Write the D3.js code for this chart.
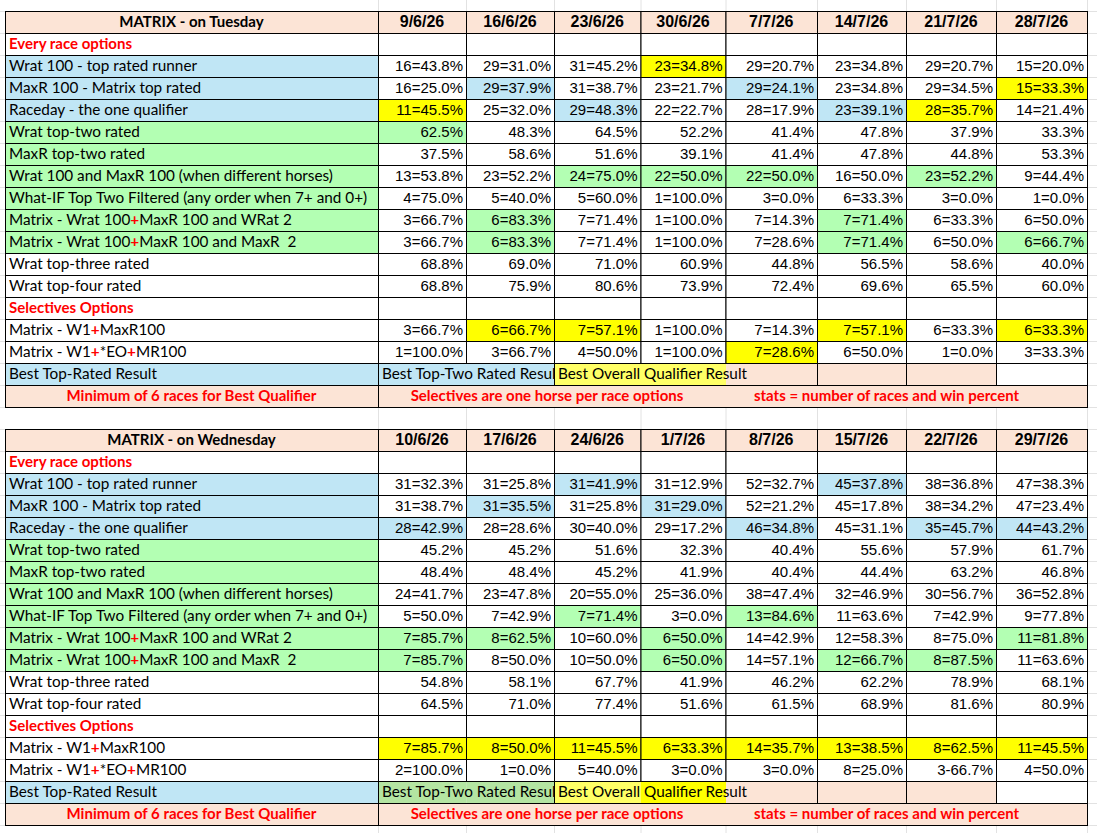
<!DOCTYPE html>
<html>
<head>
<meta charset="utf-8">
<script src="https://cdn.jsdelivr.net/npm/d3@7"></script>
<style>
  body { margin: 0; background: #fff; }
  svg { display: block; }
</style>
</head>
<body>
<div id="sheet"></div>
<script>
// Spreadsheet data: two weekly tables of strike rates

const tueDates = ["9/6/26", "16/6/26", "23/6/26", "30/6/26", "7/7/26", "14/7/26", "21/7/26", "28/7/26"];
const wedDates = ["10/6/26", "17/6/26", "24/6/26", "1/7/26", "8/7/26", "15/7/26", "22/7/26", "29/7/26"];

const rowLabels = [
  "Wrat 100 - top rated runner",
  "MaxR 100 - Matrix top rated",
  "Raceday - the one qualifier",
  "Wrat top-two rated",
  "MaxR top-two rated",
  "Wrat 100 and MaxR 100 (when different horses)",
  "What-IF Top Two Filtered (any order when 7+ and 0+)",
  "Matrix - Wrat 100+MaxR 100 and WRat 2",
  "Matrix - Wrat 100+MaxR 100 and MaxR  2",
  "Wrat top-three rated",
  "Wrat top-four rated",
  "Matrix - W1+MaxR100",
  "Matrix - W1+*EO+MR100"
];
// T = top-rated group, W = top-two group, . = plain
const rowGroups = ["T", "T", "T", "W", "W", "W", "W", "W", "W", ".", ".", ".", "."];
const sections = ["Every race options", "Selectives Options"];

const tueValues = [
  ["16=43.8%", "29=31.0%", "31=45.2%", "23=34.8%", "29=20.7%", "23=34.8%", "29=20.7%", "15=20.0%"],
  ["16=25.0%", "29=37.9%", "31=38.7%", "23=21.7%", "29=24.1%", "23=34.8%", "29=34.5%", "15=33.3%"],
  ["11=45.5%", "25=32.0%", "29=48.3%", "22=22.7%", "28=17.9%", "23=39.1%", "28=35.7%", "14=21.4%"],
  ["62.5%", "48.3%", "64.5%", "52.2%", "41.4%", "47.8%", "37.9%", "33.3%"],
  ["37.5%", "58.6%", "51.6%", "39.1%", "41.4%", "47.8%", "44.8%", "53.3%"],
  ["13=53.8%", "23=52.2%", "24=75.0%", "22=50.0%", "22=50.0%", "16=50.0%", "23=52.2%", "9=44.4%"],
  ["4=75.0%", "5=40.0%", "5=60.0%", "1=100.0%", "3=0.0%", "6=33.3%", "3=0.0%", "1=0.0%"],
  ["3=66.7%", "6=83.3%", "7=71.4%", "1=100.0%", "7=14.3%", "7=71.4%", "6=33.3%", "6=50.0%"],
  ["3=66.7%", "6=83.3%", "7=71.4%", "1=100.0%", "7=28.6%", "7=71.4%", "6=50.0%", "6=66.7%"],
  ["68.8%", "69.0%", "71.0%", "60.9%", "44.8%", "56.5%", "58.6%", "40.0%"],
  ["68.8%", "75.9%", "80.6%", "73.9%", "72.4%", "69.6%", "65.5%", "60.0%"],
  ["3=66.7%", "6=66.7%", "7=57.1%", "1=100.0%", "7=14.3%", "7=57.1%", "6=33.3%", "6=33.3%"],
  ["1=100.0%", "3=66.7%", "4=50.0%", "1=100.0%", "7=28.6%", "6=50.0%", "1=0.0%", "3=33.3%"]
];
// best-result markers per cell: T top-rated, W top-two, Q overall qualifier
const tueMarks = [
  "...Q....", ".T..T..Q", "Q.T..TQ.", "W.......", "........", "..WWW.W.",
  "........", ".W...W..", ".W...W.W", "........", "........", ".QQ..Q.Q", "....Q..."
];
const tueLegend = ["T", "T", "T", "L", "L", "P", "P", "P", "N"];

const wedValues = [
  ["31=32.3%", "31=25.8%", "31=41.9%", "31=12.9%", "52=32.7%", "45=37.8%", "38=36.8%", "47=38.3%"],
  ["31=38.7%", "31=35.5%", "31=25.8%", "31=29.0%", "52=21.2%", "45=17.8%", "38=34.2%", "47=23.4%"],
  ["28=42.9%", "28=28.6%", "30=40.0%", "29=17.2%", "46=34.8%", "45=31.1%", "35=45.7%", "44=43.2%"],
  ["45.2%", "45.2%", "51.6%", "32.3%", "40.4%", "55.6%", "57.9%", "61.7%"],
  ["48.4%", "48.4%", "45.2%", "41.9%", "40.4%", "44.4%", "63.2%", "46.8%"],
  ["24=41.7%", "23=47.8%", "20=55.0%", "25=36.0%", "38=47.4%", "32=46.9%", "30=56.7%", "36=52.8%"],
  ["5=50.0%", "7=42.9%", "7=71.4%", "3=0.0%", "13=84.6%", "11=63.6%", "7=42.9%", "9=77.8%"],
  ["7=85.7%", "8=62.5%", "10=60.0%", "6=50.0%", "14=42.9%", "12=58.3%", "8=75.0%", "11=81.8%"],
  ["7=85.7%", "8=50.0%", "10=50.0%", "6=50.0%", "14=57.1%", "12=66.7%", "8=87.5%", "11=63.6%"],
  ["54.8%", "58.1%", "67.7%", "41.9%", "46.2%", "62.2%", "78.9%", "68.1%"],
  ["64.5%", "71.0%", "77.4%", "51.6%", "61.5%", "68.9%", "81.6%", "80.9%"],
  ["7=85.7%", "8=50.0%", "11=45.5%", "6=33.3%", "14=35.7%", "13=38.5%", "8=62.5%", "11=45.5%"],
  ["2=100.0%", "1=0.0%", "5=40.0%", "3=0.0%", "3=0.0%", "8=25.0%", "3-66.7%", "4=50.0%"]
];
const wedMarks = [
  "..T..T..", ".T.T....", "T...T.TT", "........", "........", "........",
  "..W.W...", "WW.W...W", "W..W.WW.", "........", "........", "QQQQQQQQ", "........"
];
const wedLegend = ["T", "G", "G", "L", "Q", "P", "P", "P", "N"];

const legendTexts = ["Best Top-Rated Result", "Best Top-Two Rated Result", "Best Overall Qualifier Result"];
const footerTexts = ["Minimum of 6 races for Best Qualifier", "Selectives are one horse per race options", "stats = number of races and win percent"];

// ---------------------------------------------------------------
const width = 1097, height = 833;
const rowH = 22;
const labelFont = "Lato, 'Open Sans', sans-serif";
const numFont = "'Liberation Sans', Arial, sans-serif";

const svg = d3.select("#sheet").append("svg")
  .attr("width", width)
  .attr("height", height);

// column edges of the sheet
const colX = d3.scaleLinear()
  .domain(d3.range(10))
  .range([5, 378, 466, 554, 640.5, 725.5, 817, 906, 996, 1087]);

const fill = d3.scaleOrdinal()
  .domain(["T", "W", "Q", "G", "L", "P", "N", "."])
  .range(["#c0e6f5", "#b3ffb3", "#ffff00", "#b4e5a2", "#ffff66", "#fce4d6", "#ffffff", "#ffffff"]);

// faint excel gridlines behind everything
svg.append("g")
  .selectAll("line")
  .data(d3.range(-1, 38).map(k => 11 + k * rowH))
  .join("line")
  .attr("x1", 0).attr("x2", width)
  .attr("y1", d => d + 0.5).attr("y2", d => d + 0.5)
  .attr("stroke", "#e2e2e2");
svg.append("g")
  .selectAll("line")
  .data(colX.range().slice(1))
  .join("line")
  .attr("x1", d => d + 0.5).attr("x2", d => d + 0.5)
  .attr("y1", 0).attr("y2", height)
  .attr("stroke", "#e2e2e2");

let clipId = 0;

function drawTable(top, title, dates, values, marks, legend) {
  const y = d3.scaleLinear().domain([0, 18]).range([top, top + 18 * rowH]);
  const g = svg.append("g");
  const base = r => y(r) + 16;

  // cell list for rows 0..15
  const cells = [];
  d3.range(9).forEach(c => cells.push({ r: 0, c: c, f: "P" }));
  [1, 13].forEach(r => d3.range(9).forEach(c => cells.push({ r: r, c: c, f: "." })));
  values.forEach((row, i) => {
    const r = i < 11 ? i + 2 : i + 3;
    cells.push({ r: r, c: 0, f: rowGroups[i] });
    row.forEach((v, j) => cells.push({ r: r, c: j + 1, f: marks[i][j] }));
  });

  g.append("g").selectAll("rect")
    .data(cells)
    .join("rect")
    .attr("x", d => colX(d.c) + 0.5)
    .attr("y", d => y(d.r) + 0.5)
    .attr("width", d => colX(d.c + 1) - colX(d.c))
    .attr("height", rowH)
    .attr("fill", d => fill(d.f))
    .attr("stroke", "#000")
    .attr("stroke-width", 1);

  // legend row fills (no inner borders where text overflows)
  g.append("g").selectAll("rect")
    .data(legend)
    .join("rect")
    .attr("x", (d, c) => colX(c) + 0.5)
    .attr("y", y(16) + 0.5)
    .attr("width", (d, c) => colX(c + 1) - colX(c))
    .attr("height", rowH)
    .attr("fill", d => fill(d));
  // footer row fill
  g.append("rect")
    .attr("x", colX(0) + 0.5).attr("y", y(17) + 0.5)
    .attr("width", colX(9) - colX(0)).attr("height", rowH)
    .attr("fill", fill("P"));

  const lines = g.append("g").attr("stroke", "#000").attr("stroke-width", 1);
  [16, 17, 18].forEach(r => lines.append("line")
    .attr("x1", colX(0)).attr("x2", colX(9) + 1)
    .attr("y1", y(r) + 0.5).attr("y2", y(r) + 0.5));
  [0, 1, 3, 6, 7, 8, 9].forEach(c => lines.append("line")
    .attr("x1", colX(c) + 0.5).attr("x2", colX(c) + 0.5)
    .attr("y1", y(16)).attr("y2", y(17)));
  [0, 1, 9].forEach(c => lines.append("line")
    .attr("x1", colX(c) + 0.5).attr("x2", colX(c) + 0.5)
    .attr("y1", y(17)).attr("y2", y(18)));

  // header texts
  g.append("text")
    .attr("x", (colX(0) + colX(1)) / 2).attr("y", base(0))
    .attr("text-anchor", "middle")
    .style("font", `bold 15px ${labelFont}`)
    .text(title);
  g.append("g").selectAll("text")
    .data(dates)
    .join("text")
    .attr("x", (d, i) => (colX(i + 1) + colX(i + 2)) / 2)
    .attr("y", base(0))
    .attr("text-anchor", "middle")
    .style("font", `bold 16px ${numFont}`)
    .text(d => d);

  // section headings
  g.append("g").selectAll("text")
    .data(sections)
    .join("text")
    .attr("x", colX(0) + 4)
    .attr("y", (d, i) => base(i === 0 ? 1 : 13))
    .attr("fill", "#ff0000")
    .style("font", `bold 15px ${labelFont}`)
    .text(d => d);

  // row labels; the Matrix rows have red bold plus signs
  const labels = g.append("g").selectAll("text")
    .data(rowLabels)
    .join("text")
    .attr("x", colX(0) + 4)
    .attr("y", (d, i) => base(i < 11 ? i + 2 : i + 3))
    .style("font", `15.3px ${labelFont}`)
    .attr("xml:space", "preserve");
  labels.each(function(d) {
    const t = d3.select(this);
    if (!d.startsWith("Matrix")) { t.text(d); return; }
    d.split("+").forEach((part, k) => {
      if (k > 0) t.append("tspan").attr("fill", "#ff0000").attr("font-weight", "bold").text("+");
      t.append("tspan").text(part);
    });
  });

  // values
  values.forEach((row, i) => {
    const r = i < 11 ? i + 2 : i + 3;
    g.append("g").selectAll("text")
      .data(row)
      .join("text")
      .attr("x", (d, j) => colX(j + 2) - 3)
      .attr("y", base(r))
      .attr("text-anchor", "end")
      .style("font", `15px ${numFont}`)
      .text(d => d);
  });

  // legend texts
  const cid = "clip" + (clipId++);
  svg.append("clipPath").attr("id", cid)
    .append("rect")
    .attr("x", colX(1)).attr("y", y(16))
    .attr("width", colX(3) - colX(1)).attr("height", rowH);
  g.append("text")
    .attr("x", colX(0) + 4).attr("y", base(16))
    .style("font", `15.3px ${labelFont}`)
    .text(legendTexts[0]);
  g.append("text")
    .attr("x", colX(1) + 4).attr("y", base(16))
    .attr("clip-path", `url(#${cid})`)
    .style("font", `15.3px ${labelFont}`)
    .text(legendTexts[1]);
  g.append("text")
    .attr("x", colX(3) + 4).attr("y", base(16))
    .style("font", `15.3px ${labelFont}`)
    .text(legendTexts[2]);

  // footer texts
  const footX = [(colX(0) + colX(1)) / 2, colX(1) + 169, colX(5) + 161];
  g.append("g").selectAll("text")
    .data(footerTexts)
    .join("text")
    .attr("x", (d, i) => footX[i])
    .attr("y", base(17))
    .attr("text-anchor", "middle")
    .attr("fill", "#ff0000")
    .style("font", `bold 15px ${labelFont}`)
    .text(d => d);
}

drawTable(11, "MATRIX - on Tuesday", tueDates, tueValues, tueMarks, tueLegend);
drawTable(429, "MATRIX - on Wednesday", wedDates, wedValues, wedMarks, wedLegend);
</script>
</body>
</html>
